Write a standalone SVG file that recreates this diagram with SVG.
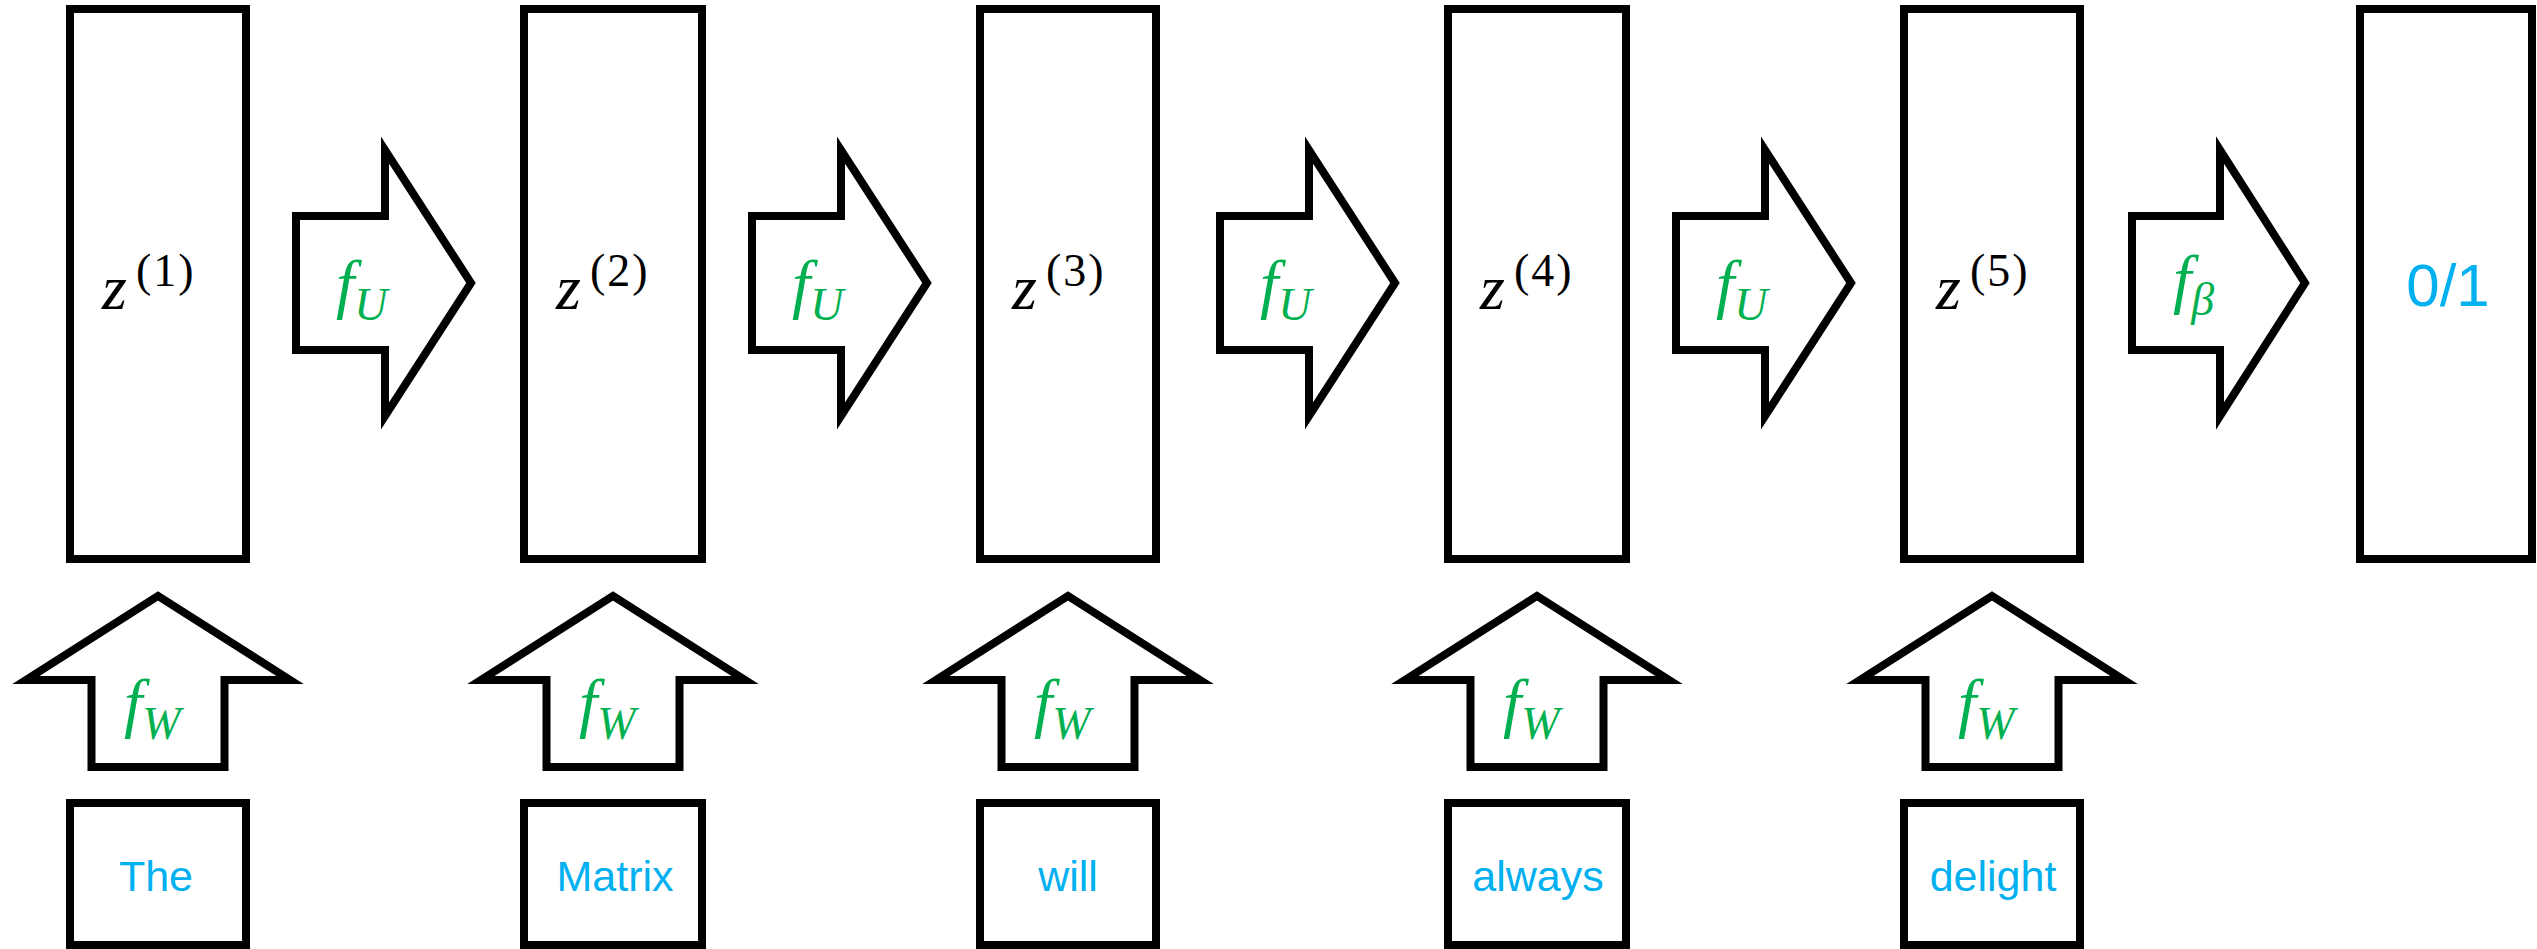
<svg xmlns="http://www.w3.org/2000/svg" width="2537" height="949" viewBox="0 0 2537 949">
<style>
.box{fill:#fff;stroke:#000;stroke-width:8}
.arr{fill:#fff;stroke:#000;stroke-width:8;stroke-linejoin:miter;stroke-miterlimit:10}
.z{font-family:"Liberation Serif",serif;font-style:italic;font-size:64px;fill:#000}
.sup{font-style:normal;font-size:46px;letter-spacing:2px}
.fn{font-family:"Liberation Serif",serif;font-style:italic;font-size:66px;fill:#00B050}
.sub{font-size:46px}
.word{font-family:"Liberation Sans",Arial,sans-serif;font-size:43px;fill:#00B0F0;text-anchor:middle}
.out{font-family:"Liberation Sans",Arial,sans-serif;font-size:60px;fill:#00B0F0;text-anchor:middle}
</style>
<rect width="2537" height="949" fill="#fff"/>
<g id="connectors">
  <g id="fU1"><polygon class="arr" points="296,216 385,216 385,150 471,283 385,416 385,350 296,350"/><text class="fn" x="336" y="306">f<tspan class="sub" dy="14">U</tspan></text></g>
  <g id="fU2"><polygon class="arr" points="752,216 841,216 841,150 927,283 841,416 841,350 752,350"/><text class="fn" x="792" y="306">f<tspan class="sub" dy="14">U</tspan></text></g>
  <g id="fU3"><polygon class="arr" points="1220,216 1309,216 1309,150 1395,283 1309,416 1309,350 1220,350"/><text class="fn" x="1260" y="306">f<tspan class="sub" dy="14">U</tspan></text></g>
  <g id="fU4"><polygon class="arr" points="1676,216 1765,216 1765,150 1851,283 1765,416 1765,350 1676,350"/><text class="fn" x="1716" y="306">f<tspan class="sub" dy="14">U</tspan></text></g>
  <g id="fB"><polygon class="arr" points="2132,216 2220,216 2220,150 2305,283 2220,416 2220,350 2132,350"/><text class="fn" x="2173" y="301">f<tspan class="sub" dy="14">β</tspan></text></g>
  <g id="fW1"><polygon class="arr" points="91.5,767 91.5,680 26,680 158,596 290,680 224.5,680 224.5,767"/><text class="fn" x="124" y="725">f<tspan class="sub" dy="14">W</tspan></text></g>
  <g id="fW2"><polygon class="arr" points="546.5,767 546.5,680 481,680 613,596 745,680 679.5,680 679.5,767"/><text class="fn" x="579" y="725">f<tspan class="sub" dy="14">W</tspan></text></g>
  <g id="fW3"><polygon class="arr" points="1001.5,767 1001.5,680 936,680 1068,596 1200,680 1134.5,680 1134.5,767"/><text class="fn" x="1034" y="725">f<tspan class="sub" dy="14">W</tspan></text></g>
  <g id="fW4"><polygon class="arr" points="1470.5,767 1470.5,680 1405,680 1537,596 1669,680 1603.5,680 1603.5,767"/><text class="fn" x="1503" y="725">f<tspan class="sub" dy="14">W</tspan></text></g>
  <g id="fW5"><polygon class="arr" points="1925.5,767 1925.5,680 1860,680 1992,596 2124,680 2058.5,680 2058.5,767"/><text class="fn" x="1958" y="725">f<tspan class="sub" dy="14">W</tspan></text></g>
</g>
<g id="z1"><rect class="box" x="70" y="9" width="176" height="550"/><text class="z" x="102" y="309">z<tspan class="sup" dx="9" dy="-23">(1)</tspan></text></g>
<g id="z2"><rect class="box" x="524" y="9" width="178" height="550"/><text class="z" x="556" y="309">z<tspan class="sup" dx="9" dy="-23">(2)</tspan></text></g>
<g id="z3"><rect class="box" x="980" y="9" width="176" height="550"/><text class="z" x="1012" y="309">z<tspan class="sup" dx="9" dy="-23">(3)</tspan></text></g>
<g id="z4"><rect class="box" x="1448" y="9" width="178" height="550"/><text class="z" x="1480" y="309">z<tspan class="sup" dx="9" dy="-23">(4)</tspan></text></g>
<g id="z5"><rect class="box" x="1904" y="9" width="176" height="550"/><text class="z" x="1936" y="309">z<tspan class="sup" dx="9" dy="-23">(5)</tspan></text></g>
<g id="output"><rect class="box" x="2360" y="9" width="172" height="550"/><text class="out" x="2448" y="306">0/1</text></g>
<g id="w1"><rect class="box" x="70" y="803" width="176" height="142"/><text class="word" x="156" y="891">The</text></g>
<g id="w2"><rect class="box" x="524" y="803" width="178" height="142"/><text class="word" x="615" y="891">Matrix</text></g>
<g id="w3"><rect class="box" x="980" y="803" width="176" height="142"/><text class="word" x="1068" y="891">will</text></g>
<g id="w4"><rect class="box" x="1448" y="803" width="178" height="142"/><text class="word" x="1538" y="891">always</text></g>
<g id="w5"><rect class="box" x="1904" y="803" width="176" height="142"/><text class="word" x="1993" y="891">delight</text></g>
</svg>
